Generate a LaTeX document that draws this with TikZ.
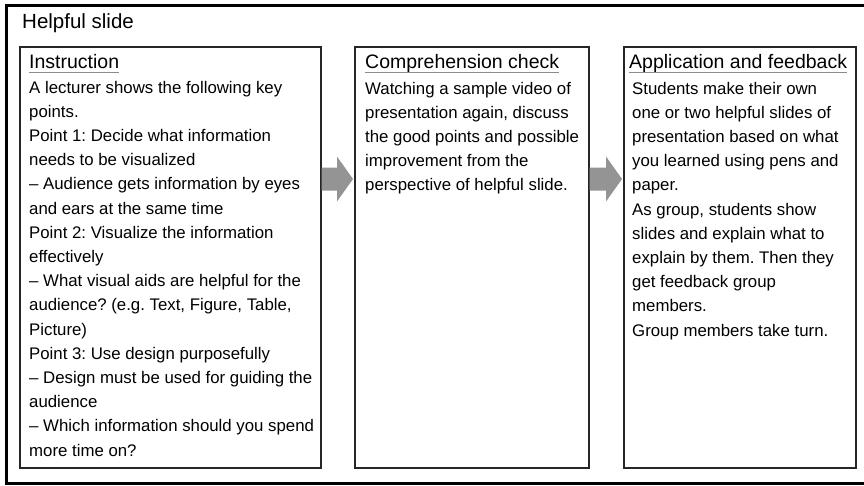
\documentclass[tikz,border=0pt]{standalone}
\usepackage{fontspec}
\setmainfont{Liberation Sans}
\usetikzlibrary{calc}
\frenchspacing
\tikzset{
  box/.style={draw=black!85,line width=1.5pt,inner sep=0pt,anchor=north west},
  head/.style={font=\fontsize{19.5}{24}\selectfont,inner sep=0pt,anchor=base west},
  body/.style={font=\fontsize{16.8}{24.2}\selectfont,inner sep=0pt,anchor=base west,align=left},
  uline/.style={draw=black!45,line width=1pt},
  arrowfill/.style={fill=black!42},
}
\begin{document}
\begin{tikzpicture}[x=1pt,y=-1pt]
\useasboundingbox (0,0) rectangle (864,485);
\clip (0,0) rectangle (864,485);
\fill[white] (0,0) rectangle (864,485);
\draw[line width=3pt] (6,5) rectangle (890,483);
\node[head,font=\fontsize{20.5}{24}\selectfont] (title) at (22,28) {Helpful slide};
% the three stages
\foreach \n/\l/\r in {1/19/320,2/354/588,3/623/855}
  \node[box,minimum width=\r pt-\l pt,minimum height=421pt] (b\n) at (\l,46) {};
\node[head] (h1) at ($(b1.north west)+(10,22)$) {Instruction};
\node[head] (h2) at ($(b2.north west)+(11,22)$) {Comprehension check};
\node[head] (h3) at ($(b3.north west)+(6,22)$) {Application and feedback};
\foreach \n in {1,2,3}
  \draw[uline] ($(h\n.base west)+(0,4)$) -- ($(h\n.base east)+(0,4)$);
% body texts, placed by the baseline of their last line
\node[body] (t1) at ($(b1.north west)+(10,410)$) {A lecturer shows the following key\\
points.\\
Point 1: Decide what information\\
needs to be visualized\\
– Audience gets information by eyes\\
and ears at the same time\\
Point 2: Visualize the information\\
effectively\\
– What visual aids are helpful for the\\
audience? (e.g. Text, Figure, Table,\\
Picture)\\
Point 3: Use design purposefully\\
– Design must be used for guiding the\\
audience\\
– Which information should you spend\\
more time on?};
\node[body] (t2) at ($(b2.north west)+(11,144.8)$) {Watching a sample video of\\
presentation again, discuss\\
the good points and possible\\
improvement from the\\
perspective of helpful slide.};
\node[body] (t3) at ($(b3.north west)+(9,290)$) {Students make their own\\
one or two helpful slides of\\
presentation based on what\\
you learned using pens and\\
paper.\\
As group, students show\\
slides and explain what to\\
explain by them. Then they\\
get feedback group\\
members.\\
Group members take turn.};
% block arrows between the stages
\foreach \a/\b in {1/2,2/3}
  \fill[arrowfill] ($(b\a.north east)+(0,121.5)$) -- ($(b\b.north west)+(-17,121.5)$)
    -- ($(b\b.north west)+(-17,110.5)$) -- ($(b\b.north west)+(-1,133)$)
    -- ($(b\b.north west)+(-17,155.5)$) -- ($(b\b.north west)+(-17,144.5)$)
    -- ($(b\a.north east)+(0,144.5)$) -- cycle;
\end{tikzpicture}
\end{document}
